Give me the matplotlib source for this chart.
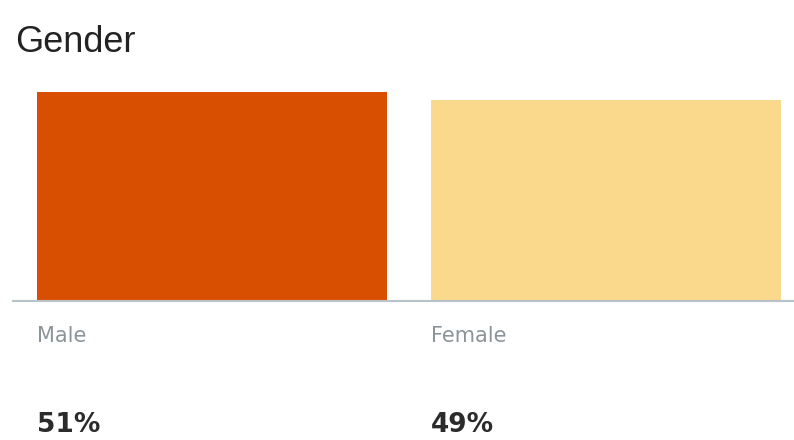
import matplotlib.pyplot as plt

# Data
categories = ['Male', 'Female']
shares = [51, 49]  # percent
colors = ['#D94F02', '#FAD88C']

W, H = 794, 440
fig = plt.figure(figsize=(W / 100, H / 100), dpi=100)
plt.rcParams['font.family'] = ['Liberation Sans', 'DejaVu Sans']

# axes placed in pixel terms: bottom at y=301, top at y=92, x from 13 to 794
ax = fig.add_axes([13 / W, 1 - 301 / H, (794 - 13) / W, (301 - 92) / H])
ax.bar(range(len(categories)), shares, width=0.888, color=colors, zorder=2)
ax.set_xlim(-0.505, 1.477)
ax.set_ylim(0, max(shares))
for s in ['top', 'right', 'left']:
    ax.spines[s].set_visible(False)
ax.spines['bottom'].set_color('#B7C3C9')
ax.spines['bottom'].set_linewidth(1.5)
ax.set_xticks([])
ax.set_yticks([])
ax.patch.set_alpha(0)

fig.text(15 / W, 1 - 42 / H, 'Gender', fontsize=26, color='#222222', va='center', ha='left')

for i, (cat, val) in enumerate(zip(categories, shares)):
    left = i - 0.888 / 2
    x_fig = ax.transData.transform((left, 0))[0] / W
    fig.text(x_fig, 1 - 336 / H, cat, fontsize=15, color='#8A9499', va='center', ha='left',
             family='DejaVu Sans')
    fig.text(x_fig, 1 - 425 / H, f'{val}%', fontsize=19, fontweight='bold',
             color='#2B2B2B', va='center', ha='left', family='DejaVu Sans')

fig.savefig('out.png', dpi=100)
